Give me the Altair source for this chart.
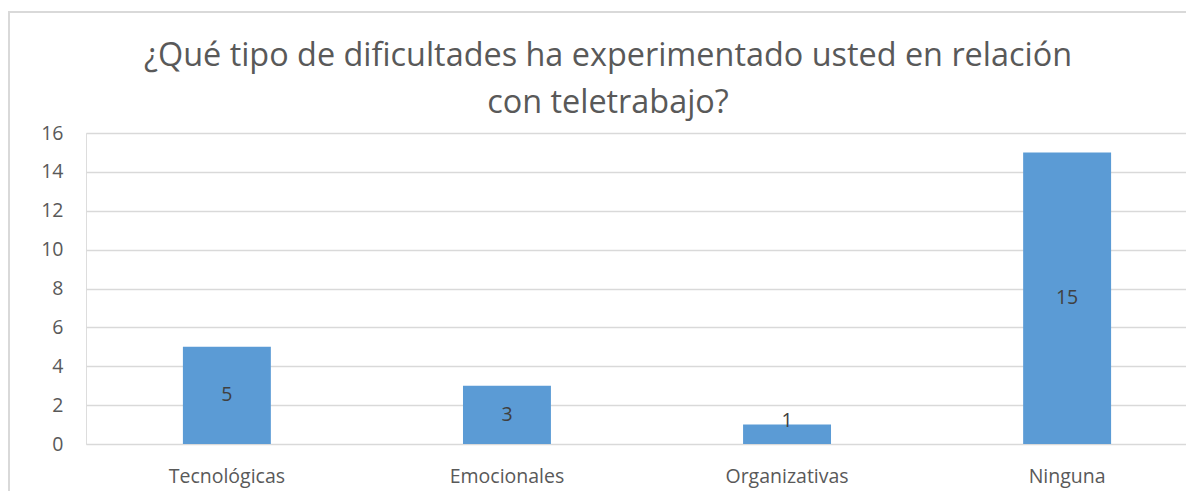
import altair as alt
import pandas as pd

categorias = ["Tecnológicas", "Emocionales", "Organizativas", "Ninguna"]
valores = [5, 3, 1, 15]
ticks_y = [0, 2, 4, 6, 8, 10, 12, 14, 16]
titulo = ["¿Qué tipo de dificultades ha experimentado usted en relación", "con teletrabajo?"]

df = pd.DataFrame({"categoria": categorias, "valor": valores})

FONT = "Open Sans"
TXT = "#595959"
GRID = "#D9D9D9"

x_scale = alt.Scale(range=[0, 1122], paddingInner=0.686, paddingOuter=0.346)
x_axis = alt.Axis(labelAngle=0, labelFont=FONT, labelFontSize=19.5, labelColor=TXT,
                  ticks=False, tickSize=0, domain=False, grid=False,
                  labelPadding=38, labelBaseline="alphabetic", labelOverlap=False)
y_scale = alt.Scale(domain=[0, 16], nice=False)
y_axis = alt.Axis(values=ticks_y, labelFont=FONT, labelFontSize=19.5, labelColor=TXT,
                  grid=True, gridColor=GRID, gridWidth=1.5, domain=False,
                  ticks=False, tickSize=0, labelPadding=23, labelOverlap=False)

bars = alt.Chart(df).mark_bar(color="#5B9BD5").encode(
    x=alt.X("categoria:N", sort=categorias, title=None, scale=x_scale, axis=x_axis),
    y=alt.Y("valor:Q", title=None, scale=y_scale, axis=y_axis),
)

labels = alt.Chart(df).transform_calculate(
    ypos="max(datum.valor / 2, 1.2)"
).mark_text(font=FONT, fontSize=19.5, color="#404040", baseline="middle").encode(
    x=alt.X("categoria:N", sort=categorias, title=None, scale=x_scale, axis=x_axis),
    y=alt.Y("ypos:Q", title=None, scale=y_scale, axis=y_axis),
    text="valor:Q",
)

frame_df = pd.DataFrame({"k": [0]})
frame_left = alt.Chart(frame_df).mark_rule(color=GRID, strokeWidth=2).encode(
    x=alt.value(-77), y=alt.value(-121), y2=alt.value(500)
)
frame_top = alt.Chart(frame_df).mark_rule(color=GRID, strokeWidth=2).encode(
    x=alt.value(-78), x2=alt.value(1200), y=alt.value(-121)
)

chart = alt.layer(bars, labels, frame_left, frame_top).properties(
    width=1100,
    height=311,
    title=alt.TitleParams(text=titulo, font=FONT, fontSize=32.4, fontWeight="normal",
                          color=TXT, anchor="middle", frame="group", dx=-28,
                          baseline="alphabetic", lineHeight=47, offset=-134),
    autosize=alt.AutoSizeParams(type="none"),
    padding={"left": 78, "top": 125, "right": 0, "bottom": 50},
).configure_view(stroke=None).configure(background="white")

chart.save("out.html", embed_options={"renderer": "svg", "actions": False})
